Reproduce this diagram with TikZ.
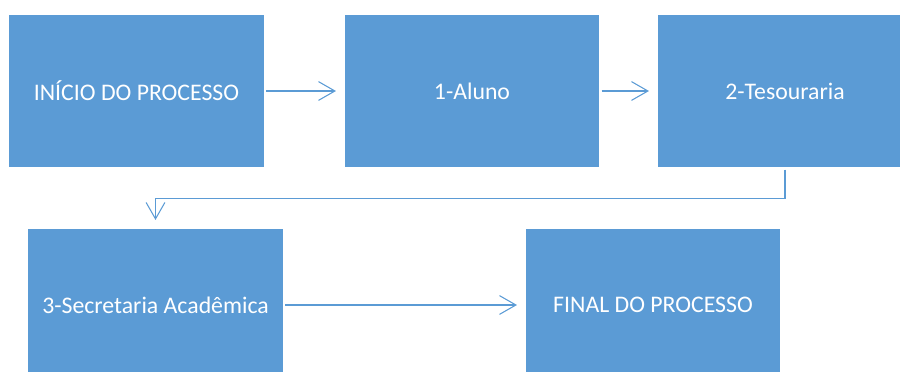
\documentclass[tikz,border=0pt]{standalone}
\usepackage{fontspec}
\setmainfont{Carlito}
\usetikzlibrary{arrows.meta}

\definecolor{caixa}{HTML}{5B9BD5}

\begin{document}
\begin{tikzpicture}[x=0.03cm, y=0.03cm, font=\fontsize{20.3}{24}\selectfont]

\tikzset{
  etapa/.style={fill=caixa, text=white, rectangle, minimum width=7.62cm, minimum height=4.56cm, inner sep=0pt, align=center},
  seta/.style={draw=caixa, line width=0.9pt, -{Straight Barb[length=14pt, width=16pt, line width=0.9pt]}, shorten <=2pt, shorten >=7.5pt}
}

\useasboundingbox (0,0) rectangle (900,372);

% first row
\node[etapa] (inicio) at (136.5,281) {INÍCIO DO PROCESSO};
\node[etapa] (aluno) at (472,281) {1-Aluno};
\node[etapa] (tesouraria) at (785,281) {2-Tesouraria};

\draw[seta] (inicio) -- (aluno);
\draw[seta] (aluno) -- (tesouraria);

% second row
\node[etapa] (secretaria) at (155.5,67) {3-Secretaria Acadêmica};
\node[etapa] (final) at (653,67) {FINAL DO PROCESSO};

\draw[seta] (tesouraria.south) -- ++(0,-31) -| (secretaria.north);
\draw[seta] (secretaria) -- (final);

\end{tikzpicture}
\end{document}
